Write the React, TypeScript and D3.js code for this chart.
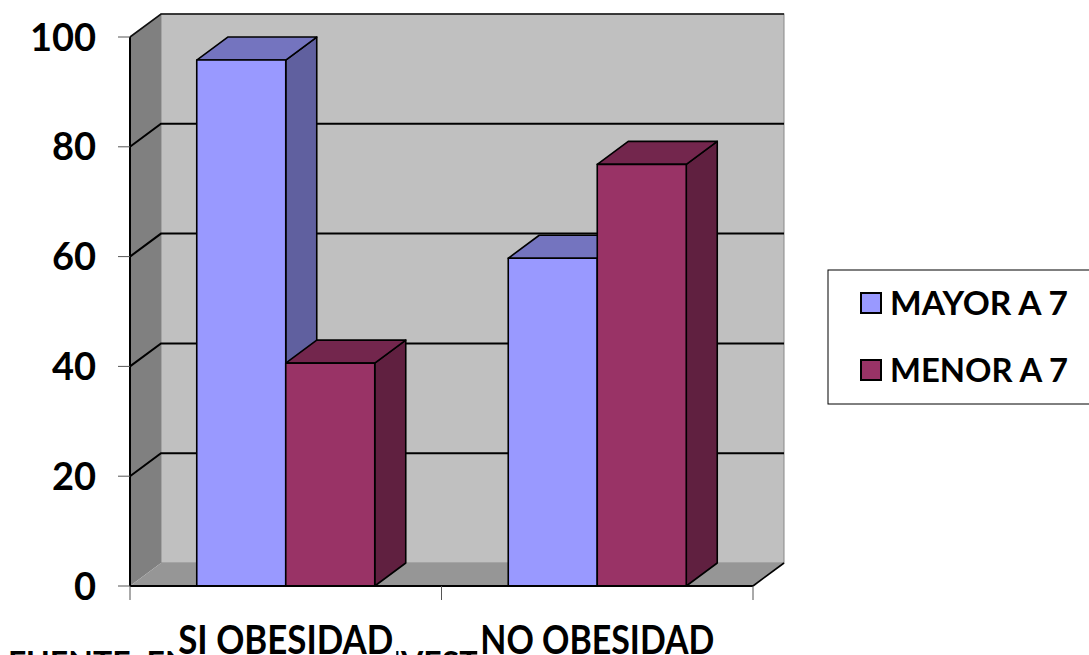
import React from "react";
import * as d3 from "d3";

const categories = ["SI OBESIDAD", "NO OBESIDAD"];
const series = ["MAYOR A 7", "MENOR A 7"];
const mayorValues = [95.8, 59.7];
const menorValues = [40.6, 76.8];
const yTicks = [0, 20, 40, 60, 80, 100];

const W = 1089;
const H = 655;
const X0 = 130;
const X1 = 753;
const Y0 = 586;
const Y100 = 37;
const DX = 31;
const DY = -23;
const FONT = "Lato, 'Open Sans', sans-serif";

const palette: Record<string, { front: string; top: string; side: string }> = {
  "MAYOR A 7": { front: "#9999FF", top: "#7474BF", side: "#60609F" },
  "MENOR A 7": { front: "#993366", top: "#73264D", side: "#602040" },
};

const catLabelWidth: Record<string, number> = { "SI OBESIDAD": 215, "NO OBESIDAD": 234 };

export default function App() {
  const y = d3.scaleLinear().domain([0, 100]).range([Y0, Y100]);
  const x = d3.scaleBand<string>().domain(categories).range([X0, X1]).padding(0);
  const xs = d3
    .scaleBand<string>()
    .domain(series)
    .range([0, x.bandwidth()])
    .paddingInner(0)
    .paddingOuter(0.75);

  const valuesBySeries: Record<string, number[]> = {
    "MAYOR A 7": mayorValues,
    "MENOR A 7": menorValues,
  };

  const pts = (arr: [number, number][]) => arr.map((p) => p.join(",")).join(" ");

  const bars: React.ReactNode[] = [];
  categories.forEach((c, ci) => {
    series.forEach((s) => {
      const v = valuesBySeries[s][ci];
      const l = (x(c) as number) + (xs(s) as number);
      const r = l + xs.bandwidth();
      const t = y(v);
      const b = y(0);
      const col = palette[s];
      bars.push(
        <g key={c + s} stroke="#000" strokeWidth={1.6} strokeLinejoin="round">
          <polygon
            points={pts([
              [r, b],
              [r + DX, b + DY],
              [r + DX, t + DY],
              [r, t],
            ])}
            fill={col.side}
          />
          <polygon
            points={pts([
              [l, t],
              [l + DX, t + DY],
              [r + DX, t + DY],
              [r, t],
            ])}
            fill={col.top}
          />
          <rect x={l} y={t} width={r - l} height={b - t} fill={col.front} />
        </g>
      );
    });
  });

  return (
    <svg width={W} height={H} style={{ position: "absolute", left: 0, top: 0, background: "#fff" }}>
      <rect x={0} y={0} width={W} height={H} fill="#fff" />
      {/* bottom source text, mostly cut off */}
      <text x={8} y={675} fontFamily={FONT} fontWeight={700} fontSize={32} fill="#000">
        FUENTE: ENCUESTA DE INVESTIGACIÓN
      </text>

      {/* back wall */}
      <rect x={X0 + DX} y={Y100 + DY} width={X1 - X0} height={Y0 - Y100} fill="#C0C0C0" stroke="#888" strokeWidth={1} />
      {/* left wall */}
      <polygon
        points={pts([
          [X0, Y0],
          [X0, Y100],
          [X0 + DX, Y100 + DY],
          [X0 + DX, Y0 + DY],
        ])}
        fill="#808080"
      />
      {/* floor */}
      <polygon
        points={pts([
          [X0, Y0],
          [X1, Y0],
          [X1 + DX, Y0 + DY],
          [X0 + DX, Y0 + DY],
        ])}
        fill="#969696"
      />
      {/* top edge of walls */}
      <polyline
        points={pts([
          [X0, Y100],
          [X0 + DX, Y100 + DY],
          [X1 + DX, Y100 + DY],
        ])}
        fill="none"
        stroke="#111"
        strokeWidth={1.6}
      />
      {/* gridlines */}
      {yTicks
        .filter((t) => t > 0 && t < 100)
        .map((t) => (
          <polyline
            key={"g" + t}
            points={pts([
              [X0, y(t)],
              [X0 + DX, y(t) + DY],
              [X1 + DX, y(t) + DY],
            ])}
            fill="none"
            stroke="#000"
            strokeWidth={2}
          />
        ))}
      {/* floor right edge */}
      <line x1={X1} y1={Y0} x2={X1 + DX} y2={Y0 + DY} stroke="#000" strokeWidth={1.6} />

      {bars}

      {/* axes */}
      <line x1={X0} y1={Y100} x2={X0} y2={Y0} stroke="#000" strokeWidth={2} />
      <line x1={X0} y1={Y0} x2={X1} y2={Y0} stroke="#000" strokeWidth={2} />
      {yTicks.map((t) => (
        <line key={"yt" + t} x1={X0 - 12} y1={y(t)} x2={X0} y2={y(t)} stroke="#555" strokeWidth={1} />
      ))}
      {[X0, X0 + x.step(), X1].map((xv, i) => (
        <line key={"xt" + i} x1={xv} y1={Y0} x2={xv} y2={Y0 + 14} stroke="#555" strokeWidth={1} />
      ))}
      {yTicks.map((t) => (
        <text
          key={"yl" + t}
          x={96}
          y={y(t)}
          dy="0.36em"
          textAnchor="end"
          fontFamily={FONT}
          fontWeight={700}
          fontSize={38}
          fill="#000"
        >
          {t}
        </text>
      ))}

      {/* category labels with white backing */}
      {categories.map((c) => {
        const cx = (x(c) as number) + x.bandwidth() / 2;
        const w = catLabelWidth[c];
        return (
          <g key={"cl" + c}>
            <rect x={cx - w / 2 - 3} y={618} width={w + 6} height={40} fill="#fff" />
            <text
              x={cx}
              y={654}
              textAnchor="middle"
              fontFamily={FONT}
              fontWeight={700}
              fontSize={40}
              textLength={w}
              lengthAdjust="spacingAndGlyphs"
              fill="#000"
            >
              {c}
            </text>
          </g>
        );
      })}

      {/* legend */}
      <rect x={828} y={270} width={270} height={134} fill="#fff" stroke="#000" strokeWidth={1} />
      {series.map((s, i) => (
        <g key={"lg" + s}>
          <rect
            x={861}
            y={293 + i * 67}
            width={20}
            height={20}
            fill={palette[s].front}
            stroke="#000"
            strokeWidth={2}
          />
          <text
            x={890}
            y={315 + i * 67}
            fontFamily={FONT}
            fontWeight={700}
            fontSize={32}
            textLength={178}
            lengthAdjust="spacingAndGlyphs"
            fill="#000"
          >
            {s}
          </text>
        </g>
      ))}
    </svg>
  );
}
